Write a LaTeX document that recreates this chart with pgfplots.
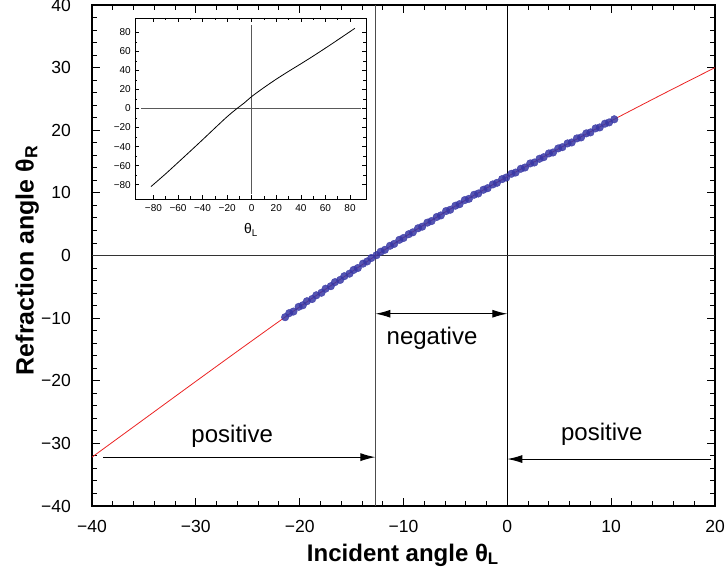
\documentclass[border=0pt]{standalone}
\usepackage{fontspec}
\setmainfont{Liberation Sans}
\usepackage{pgfplots}
\pgfplotsset{compat=1.18}
\usetikzlibrary{arrows.meta}
\definecolor{dotblue}{RGB}{55,55,165}
\definecolor{fitred}{RGB}{235,35,35}
\begin{document}
\begin{tikzpicture}
\begin{axis}[
 scale only axis, width=623pt, height=501pt,
 xmin=-40,xmax=20,ymin=-40,ymax=40,
 xtick={-40,-30,...,20}, xticklabels={−40,−30,−20,−10,0,10,20},
 ytick={-40,-30,...,40}, yticklabels={−40,−30,−20,−10,0,10,20,30,40},
 minor x tick num=4, minor y tick num=4,
 tick align=inside,
 major tick length=8pt, minor tick length=5pt,
 every tick/.append style={black, line width=0.9pt},
 axis line style={line width=1.3pt},
 tick label style={font=\fontsize{17.5}{20}\selectfont},
 xticklabel style={anchor=base, yshift=-27pt, inner sep=0pt},
 yticklabel style={anchor=east, xshift=-21pt, inner sep=0pt},
 xlabel={\bfseries Incident angle θ\textsubscript{L}},
 ylabel={\bfseries Refraction angle θ\textsubscript{R}},
 xlabel style={font=\fontsize{24}{28}\selectfont, at={(axis description cs:0.499,-0.098)}, anchor=center},
 ylabel style={font=\fontsize{25}{29}\selectfont, at={(axis description cs:-0.104,0.49)}, anchor=center},
 clip=false,
]
\draw[line width=0.9pt, black!70] (axis cs:-12.7,-40) -- (axis cs:-12.7,40);
\draw[line width=0.9pt, black] (axis cs:0,-40) -- (axis cs:0,40);
\draw[line width=0.9pt, black!80] (axis cs:-40,0) -- (axis cs:20,0);
\addplot[only marks, mark=*, mark size=3.8pt, mark options={fill=dotblue, draw=dotblue, fill opacity=0.85, draw opacity=0.85}] coordinates {
(-21.4,-9.85) (-21.0,-9.2) (-20.6,-8.95) (-20.1,-8.2) (-19.7,-7.95) (-19.3,-7.3)
(-18.8,-6.95) (-18.4,-6.35) (-17.9,-5.95) (-17.5,-5.3) (-17.0,-4.9) (-16.6,-4.25)
(-16.1,-3.9) (-15.7,-3.3) (-15.2,-2.9) (-14.8,-2.3) (-14.4,-2.0) (-13.9,-1.3)
(-13.5,-0.95) (-13.1,-0.4) (-12.6,0.05) (-12.2,0.6) (-11.8,0.9) (-11.3,1.55)
(-10.9,1.85) (-10.4,2.5) (-10.0,2.8) (-9.5,3.4) (-9.1,3.7) (-8.6,4.35)
(-8.2,4.6) (-7.7,5.25) (-7.3,5.5) (-6.8,6.15) (-6.4,6.4) (-5.9,7.1)
(-5.5,7.3) (-5.0,7.95) (-4.6,8.2) (-4.1,8.85) (-3.7,9.05) (-3.2,9.7)
(-2.8,9.9) (-2.3,10.5) (-1.9,10.75) (-1.4,11.35) (-1.0,11.6) (-0.5,12.2)
(-0.1,12.45) (0.4,13.05) (0.8,13.25) (1.3,13.85) (1.7,14.05) (2.2,14.7)
(2.6,14.85) (3.1,15.45) (3.5,15.7) (4.0,16.3) (4.4,16.45) (4.9,17.1)
(5.3,17.3) (5.8,17.9) (6.2,18.05) (6.7,18.7) (7.1,18.85) (7.6,19.5)
(8.0,19.65) (8.5,20.3) (8.9,20.45) (9.4,21.05) (9.8,21.25) (10.3,21.75)
};
\addplot[fitred, line width=0.8pt, smooth] coordinates {
(-40,-32.2) (-35,-26.15) (-30,-20.1) (-25,-14.1) (-20,-8.2) (-15,-2.6)
(-10,2.85) (-5,7.9) (0,12.6) (5,17.1) (10,21.5) (15,25.8) (20,30.0)
};
\draw[line width=1pt, {Latex[length=15pt,width=8pt]}-{Latex[length=15pt,width=8pt]}] (axis cs:-12.7,-9.3) -- (axis cs:0,-9.3);
\draw[line width=1pt, -{Latex[length=15pt,width=8pt]}] (axis cs:-38.9,-32.2) -- (axis cs:-12.7,-32.2);
\draw[line width=1pt, -{Latex[length=15pt,width=8pt]}] (axis cs:19.6,-32.5) -- (axis cs:0,-32.5);
\node[font=\fontsize{24}{28}\selectfont] at (axis cs:-7.25,-13.3) {negative};
\node[font=\fontsize{24}{28}\selectfont] at (axis cs:-26.5,-28.8) {positive};
\node[font=\fontsize{24}{28}\selectfont] at (axis cs:9.1,-28.5) {positive};
\end{axis}
\begin{axis}[
 at={(43pt,307pt)}, anchor=south west,
 scale only axis, width=231pt, height=181pt,
 xmin=-95,xmax=93,ymin=-95,ymax=95,
 xtick={-80,-60,...,80}, xticklabels={−80,−60,−40,−20,0,20,40,60,80},
 ytick={-80,-60,...,80}, yticklabels={−80,−60,−40,−20,0,20,40,60,80},
 minor tick num=1,
 tick align=inside,
 major tick length=4pt, minor tick length=2.5pt,
 every tick/.append style={black, line width=0.6pt},
 axis line style={line width=0.8pt},
 axis background/.style={fill=white},
 tick label style={font=\fontsize{10}{12}\selectfont},
 xticklabel style={anchor=base, yshift=-13pt, inner sep=0pt},
 yticklabel style={anchor=east, xshift=-4pt, inner sep=0pt},
 xlabel={θ\textsubscript{L}},
 xlabel style={font=\fontsize{14}{16}\selectfont, at={(axis description cs:0.502,-0.171)}, anchor=center},
]
\draw[line width=0.8pt, black!65] (axis cs:-90,0) -- (axis cs:89,0);
\draw[line width=0.8pt, black!65] (axis cs:0,-90) -- (axis cs:0,88);
\addplot[black, line width=0.8pt, smooth] coordinates {
(-82,-82) (-70,-68.5) (-60,-56.7) (-50,-44.8) (-40,-32.8) (-30,-20.6) (-20,-8.6)
(-12,0) (-6,5.9) (0,12.6) (10,22) (20,30.8) (30,39) (40,46.9) (50,55)
(60,63.4) (70,72) (84,84.2)
};
\end{axis}
\pgfresetboundingbox
\path (-92pt,-69pt) rectangle (634pt,506pt);
\end{tikzpicture}
\end{document}
